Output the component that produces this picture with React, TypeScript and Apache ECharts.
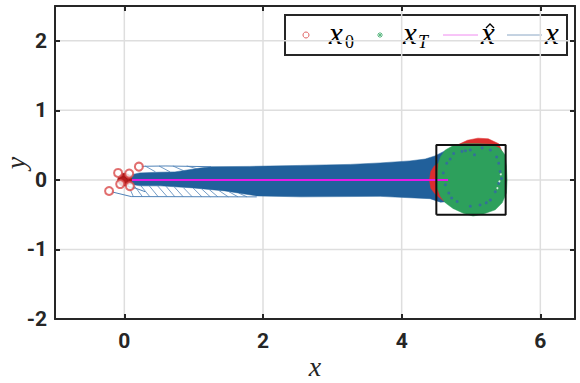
import React, { useEffect, useRef } from "react";
import * as echarts from "echarts";

// ---- axes ----
const xTicks = [0, 2, 4, 6];
const yTicks = [-2, -1, 0, 1, 2];
const xRange = [-1, 6.5];
const yRange = [-2, 2.5];

// ---- initial states x0 (red circles) ----
const x0Scattered = [
  [-0.09, 0.1], [0.21, 0.19], [0.07, 0.09], [-0.06, -0.06], [0.08, -0.09], [-0.22, -0.16],
];
const x0Cluster = [
  [0.0, 0.01], [0.02, 0.0], [-0.02, 0.02], [0.01, -0.02], [0.03, 0.02], [-0.01, -0.01],
  [0.04, 0.0], [0.0, 0.03], [-0.03, 0.0], [0.02, -0.01], [0.01, 0.02], [-0.02, -0.02],
];

// ---- trajectory band x (outline of the dense bundle) ----
const bandUpper = [
  [0.04, 0.06], [0.22, 0.1], [0.5, 0.11], [0.73, 0.115], [1.09, 0.17], [1.25, 0.19],
  [1.81, 0.194], [2.54, 0.208], [3.26, 0.223], [3.69, 0.244], [4.12, 0.273],
  [4.34, 0.3], [4.48, 0.345], [4.63, 0.42], [4.8, 0.3],
];
const bandLower = [
  [0.04, -0.057], [0.23, -0.086], [0.52, -0.086], [0.99, -0.115], [1.45, -0.158],
  [1.91, -0.23], [2.54, -0.244], [3.69, -0.237], [4.19, -0.26], [4.41, -0.27],
  [4.56, -0.32], [4.8, -0.3],
];

// individual trajectories leaving the fan
const trajTop = [[0.24, 0.195], [0.6, 0.2], [1.25, 0.19]];
const trajUpperLeft = [[-0.06, 0.08], [0.02, 0.04]];
const trajBottom = [[-0.19, -0.17], [0.1, -0.24], [1.91, -0.244]];
const trajLowerA = [[-0.03, -0.07], [0.15, -0.12]];
const trajLowerB = [[0.11, -0.1], [0.3, -0.17]];

// short hatch segments [x1, y1, x2, y2]
const hatchUpper = [
  [0.3, 0.2, 0.45, 0.115], [0.5, 0.2, 0.66, 0.115], [0.7, 0.2, 0.86, 0.13],
  [0.9, 0.2, 1.05, 0.16],
];
const hatchLower = [
  [0.05, -0.06, 0.13, -0.24], [0.14, -0.08, 0.26, -0.24], [0.24, -0.086, 0.37, -0.244],
  [0.36, -0.086, 0.49, -0.244], [0.48, -0.086, 0.62, -0.244], [0.6, -0.09, 0.73, -0.244],
  [0.72, -0.1, 0.85, -0.244], [0.85, -0.11, 0.98, -0.244], [0.99, -0.115, 1.12, -0.244],
  [1.11, -0.125, 1.24, -0.244], [1.22, -0.135, 1.35, -0.244], [1.36, -0.15, 1.5, -0.244],
  [1.5, -0.165, 1.64, -0.244], [1.65, -0.19, 1.77, -0.244],
];

// ---- reference x-hat ----
const xHat = [[0.0, 0.0], [4.67, 0.0]];

// ---- terminal region ----
const redTerminal = [
  [4.4, 0.0], [4.42, 0.12], [4.47, 0.2], [4.55, 0.25], [4.6, 0.3], [4.8, 0.5],
  [4.95, 0.57], [5.1, 0.6], [5.25, 0.59], [5.4, 0.52], [5.45, 0.4], [5.45, -0.3],
  [4.6, -0.3], [4.48, -0.2], [4.42, -0.12],
];
const greenTerminal = [
  [4.51, 0.0], [4.52, 0.15], [4.53, 0.24], [4.56, 0.33], [4.63, 0.43], [4.74, 0.49],
  [4.9, 0.52], [5.1, 0.52], [5.3, 0.51], [5.42, 0.45], [5.49, 0.36], [5.51, 0.2],
  [5.52, 0.0], [5.51, -0.19], [5.45, -0.33], [5.35, -0.43], [5.18, -0.49], [5.03, -0.52],
  [4.89, -0.48], [4.74, -0.41], [4.63, -0.33], [4.56, -0.24], [4.51, -0.11],
];
const blueSpecks = [
  [4.75, 0.38], [4.87, 0.41], [4.99, 0.43], [5.16, 0.46], [5.28, 0.43], [5.37, 0.33],
  [5.4, 0.24], [5.42, 0.12], [5.4, -0.05], [5.35, -0.17], [5.28, -0.29], [5.13, -0.36],
  [4.99, -0.38], [4.8, -0.31], [4.68, -0.19], [4.63, -0.07], [4.6, 0.1], [4.65, 0.24],
  [4.7, 0.3], [5.05, 0.36], [5.22, -0.33], [4.72, -0.26], [5.44, 0.02], [4.92, 0.42],
];
const whiteSpecks = [[5.43, 0.08], [5.38, -0.12], [5.41, -0.02]];
const targetBox = [[4.5, -0.5], [5.5, -0.5], [5.5, 0.5], [4.5, 0.5], [4.5, -0.5]];

const BLUE = "#21609b";
const HATCH = "#5083b8";
const RED = "#dc2e2e";
const GREEN = "#2da05c";
const MAGENTA = "#e619e6";
const INK = "#262626";

function polygonSeries(points: number[][], color: string, z: number) {
  return {
    type: "custom",
    coordinateSystem: "cartesian2d",
    silent: true,
    clip: false,
    z,
    data: [points[0]],
    renderItem: (_p: any, api: any) => ({
      type: "polygon",
      shape: { points: points.map((p) => api.coord(p)) },
      style: { fill: color, stroke: color, lineWidth: 0.5 },
    }),
  };
}

function segmentSeries(segs: number[][], color: string, width: number, z: number) {
  return {
    type: "custom",
    coordinateSystem: "cartesian2d",
    silent: true,
    z,
    data: segs,
    renderItem: (_p: any, api: any) => {
      const a = api.coord([api.value(0), api.value(1)]);
      const b = api.coord([api.value(2), api.value(3)]);
      return {
        type: "line",
        shape: { x1: a[0], y1: a[1], x2: b[0], y2: b[1] },
        style: { stroke: color, lineWidth: width },
      };
    },
  };
}

function lineSeries(data: number[][], color: string, width: number, z: number) {
  return {
    type: "line",
    data,
    showSymbol: false,
    symbol: "none",
    silent: true,
    z,
    lineStyle: { color, width },
  };
}

export default function App() {
  const ref = useRef<HTMLDivElement>(null);
  useEffect(() => {
    if (!ref.current) return;
    const chart = echarts.init(ref.current, null, { renderer: "svg" });
    const axisLine = { show: true, onZero: false, lineStyle: { color: INK, width: 2 } };
    const tickStyle = { color: INK, width: 2 };
    const labelStyle = {
      fontSize: 21,
      fontWeight: "bold" as const,
      color: INK,
      fontFamily: "Roboto",
    };
    const serif = "Liberation Serif";
    chart.setOption({
      animation: false,
      grid: { left: 55, right: 5, top: 6, bottom: 64, containLabel: false, outerBoundsMode: "none" },
      xAxis: [
        {
          type: "value",
          min: xRange[0],
          max: xRange[1],
          position: "bottom",
          z: 10,
          axisLine,
          axisTick: { show: true, inside: true, length: 5, customValues: xTicks, lineStyle: tickStyle },
          axisLabel: { ...labelStyle, margin: 11, customValues: xTicks },
          splitLine: { show: false },
        },
        {
          type: "value",
          min: xRange[0],
          max: xRange[1],
          position: "top",
          z: 10,
          axisLine,
          axisTick: { show: true, inside: true, length: 5, customValues: xTicks, lineStyle: tickStyle },
          axisLabel: { show: false },
          splitLine: { show: false },
        },
      ],
      yAxis: [
        {
          type: "value",
          min: yRange[0],
          max: yRange[1],
          position: "left",
          z: 10,
          axisLine,
          axisTick: { show: true, inside: true, length: 5, customValues: yTicks, lineStyle: tickStyle },
          axisLabel: { ...labelStyle, margin: 8, customValues: yTicks },
          splitLine: { show: false },
        },
        {
          type: "value",
          min: yRange[0],
          max: yRange[1],
          position: "right",
          z: 10,
          axisLine,
          axisTick: { show: true, inside: true, length: 5, customValues: yTicks, lineStyle: tickStyle },
          axisLabel: { show: false },
          splitLine: { show: false },
        },
      ],
      series: [
        segmentSeries(xTicks.map((v) => [v, yRange[0], v, yRange[1]]), "#dedede", 1.5, 1),
        segmentSeries(yTicks.map((v) => [xRange[0], v, xRange[1], v]), "#dedede", 1.5, 1),
        polygonSeries([...bandUpper, ...bandLower.slice().reverse()], BLUE, 3),
        lineSeries(trajTop, HATCH, 1, 3),
        lineSeries(trajUpperLeft, HATCH, 1, 3),
        lineSeries(trajBottom, HATCH, 1, 3),
        lineSeries(trajLowerA, HATCH, 1, 3),
        lineSeries(trajLowerB, HATCH, 1, 3),
        segmentSeries(hatchUpper, HATCH, 0.8, 3),
        segmentSeries(hatchLower, HATCH, 0.8, 3),
        polygonSeries(redTerminal, RED, 4),
        polygonSeries(greenTerminal, GREEN, 5),
        {
          type: "scatter",
          data: blueSpecks,
          symbol: "circle",
          symbolSize: 3,
          silent: true,
          z: 6,
          itemStyle: { color: "#3565a8" },
        },
        {
          type: "scatter",
          data: whiteSpecks,
          symbol: "circle",
          symbolSize: 2,
          silent: true,
          z: 6,
          itemStyle: { color: "#ffffff" },
        },
        lineSeries(xHat, MAGENTA, 2, 7),
        {
          type: "scatter",
          data: x0Cluster,
          symbol: "circle",
          symbolSize: 9,
          silent: true,
          z: 8,
          itemStyle: { color: "#b51e1e", borderColor: "#a01818", borderWidth: 1 },
        },
        {
          type: "scatter",
          data: x0Scattered,
          symbol: "emptyCircle",
          symbolSize: 8,
          silent: true,
          z: 8,
          itemStyle: { color: "#d94a4a", borderWidth: 1 },
        },
        lineSeries(targetBox, "#111111", 2, 9),
      ],
      graphic: [
        {
          type: "text",
          x: 315,
          y: 366,
          style: { text: "x", fontFamily: serif, fontStyle: "italic", fontSize: 28, fill: INK, align: "center", verticalAlign: "middle" },
        },
        {
          type: "text",
          x: 15,
          y: 163,
          rotation: Math.PI / 2,
          style: { text: "y", fontFamily: serif, fontStyle: "italic", fontSize: 28, fill: INK, align: "center", verticalAlign: "middle" },
        },
        {
          type: "group",
          z: 100,
          children: [
            {
              type: "rect",
              shape: { x: 285, y: 15, width: 282, height: 40 },
              style: { fill: "#ffffff", stroke: INK, lineWidth: 2 },
            },
            {
              type: "circle",
              shape: { cx: 306, cy: 35, r: 3 },
              style: { fill: "none", stroke: "#e06060", lineWidth: 1 },
            },
            {
              type: "text",
              x: 329,
              y: 33,
              style: { text: "x", fontFamily: serif, fontStyle: "italic", fontSize: 31, fill: "#000", verticalAlign: "middle" },
            },
            {
              type: "text",
              x: 345,
              y: 42,
              style: { text: "0", fontFamily: serif, fontSize: 18, fill: "#000", verticalAlign: "middle" },
            },
            { type: "line", shape: { x1: 377, y1: 35, x2: 383, y2: 35 }, style: { stroke: "#5cb882", lineWidth: 1 } },
            { type: "line", shape: { x1: 380, y1: 32, x2: 380, y2: 38 }, style: { stroke: "#5cb882", lineWidth: 1 } },
            { type: "line", shape: { x1: 378, y1: 33, x2: 382, y2: 37 }, style: { stroke: "#5cb882", lineWidth: 1 } },
            { type: "line", shape: { x1: 378, y1: 37, x2: 382, y2: 33 }, style: { stroke: "#5cb882", lineWidth: 1 } },
            {
              type: "text",
              x: 403,
              y: 33,
              style: { text: "x", fontFamily: serif, fontStyle: "italic", fontSize: 31, fill: "#000", verticalAlign: "middle" },
            },
            {
              type: "text",
              x: 418,
              y: 42,
              style: { text: "T", fontFamily: serif, fontStyle: "italic", fontSize: 18, fill: "#000", verticalAlign: "middle" },
            },
            { type: "line", shape: { x1: 443, y1: 35, x2: 478, y2: 35 }, style: { stroke: "#f08af0", lineWidth: 1 } },
            {
              type: "text",
              x: 481,
              y: 33,
              style: { text: "x", fontFamily: serif, fontStyle: "italic", fontSize: 31, fill: "#000", verticalAlign: "middle" },
            },
            {
              type: "polyline",
              shape: { points: [[486, 28], [490, 24], [494, 28]] },
              style: { stroke: "#000", lineWidth: 1.3, fill: "none" },
            },
            { type: "line", shape: { x1: 507, y1: 35, x2: 542, y2: 35 }, style: { stroke: "#8aa6c4", lineWidth: 1 } },
            {
              type: "text",
              x: 545,
              y: 33,
              style: { text: "x", fontFamily: serif, fontStyle: "italic", fontSize: 31, fill: "#000", verticalAlign: "middle" },
            },
          ],
        },
      ],
    });
    return () => chart.dispose();
  }, []);
  return <div ref={ref} style={{ width: 580, height: 383, position: "absolute", left: 0, top: 0 }} />;
}
